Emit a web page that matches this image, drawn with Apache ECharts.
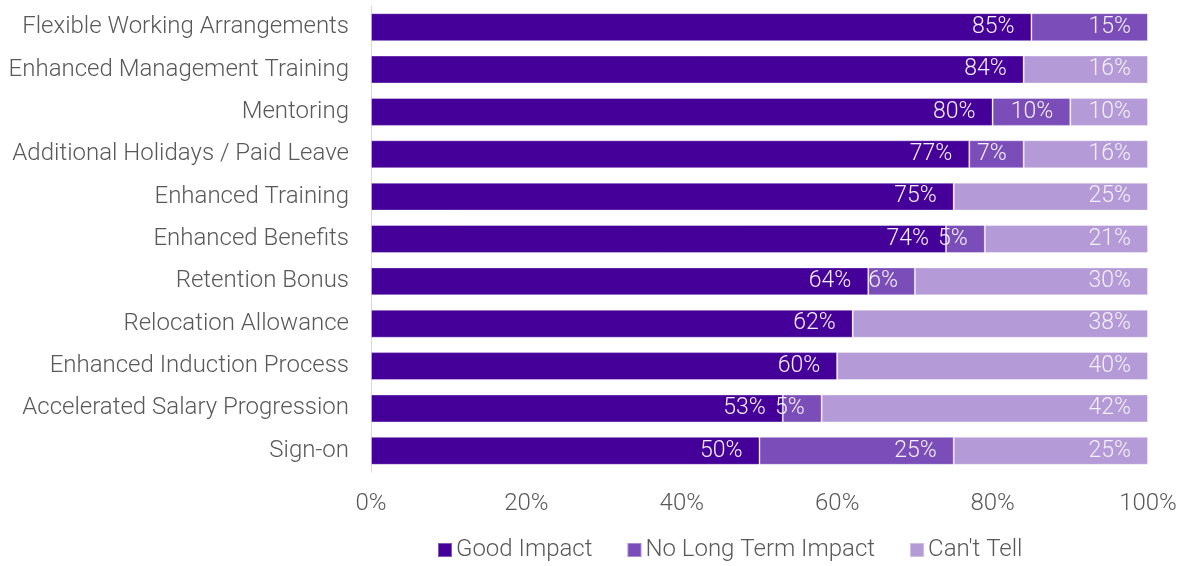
<!DOCTYPE html>
<html><head><meta charset="utf-8">
<script src="https://cdn.jsdelivr.net/npm/echarts@6/dist/echarts.min.js"></script>
<style>html,body{margin:0;padding:0;background:#fff}#c{width:1181px;height:566px}</style>
</head><body><div id="c"></div>
<script>
const categories = ["Flexible Working Arrangements","Enhanced Management Training","Mentoring","Additional Holidays / Paid Leave","Enhanced Training","Enhanced Benefits","Retention Bonus","Relocation Allowance","Enhanced Induction Process","Accelerated Salary Progression","Sign-on"];
const goodImpact = [85,84,80,77,75,74,64,62,60,53,50];
const noLongTerm = [15,0,10,7,0,5,6,0,0,5,25];
const cantTell = [0,16,10,16,25,21,30,38,40,42,25];
const seriesNames = ["Good Impact","No Long Term Impact","Can't Tell"];
const colors = ["#440099","#7b4db8","#b49ad6"];
const font = "Roboto";
const chart = echarts.init(document.getElementById('c'));
function mk(name, data, color){
  return {name, type:'bar', stack:'a', data, barCategoryGap:'34%',
    itemStyle:{color, borderColor:'rgba(255,255,255,0.35)', borderWidth:1},
    label:{show:true, position:'insideRight', distance:17, color:'#f4f0fa', fontFamily:font, fontWeight:300, fontSize:23,
      formatter:p=>p.value? p.value+'%':''},
    labelLayout:{hideOverlap:false},
    emphasis:{disabled:true}};
}
chart.setOption({
  animation:false,
  grid:{left:371, right:33, top:6, bottom:94, containLabel:false},
  legend:{left:437, top:538, padding:0, itemWidth:14, itemHeight:14, itemGap:34, icon:'rect',
    textStyle:{fontFamily:font, fontWeight:300, fontSize:24, color:'#595959', padding:[0,0,0,-1]},
    data:seriesNames},
  xAxis:{type:'value', min:0, max:100, interval:20,
    axisLabel:{formatter:'{value}%', fontFamily:font, fontWeight:300, fontSize:24, color:'#595959', margin:20},
    splitLine:{show:false}, axisLine:{show:false}, axisTick:{show:false}},
  yAxis:{type:'category', inverse:true, data:categories,
    axisLine:{show:true, lineStyle:{color:'#d9d9d9', width:1}}, axisTick:{show:false},
    axisLabel:{fontFamily:font, fontWeight:300, fontSize:24, color:'#595959', margin:22}},
  series:[mk(seriesNames[0],goodImpact,colors[0]), mk(seriesNames[1],noLongTerm,colors[1]), mk(seriesNames[2],cantTell,colors[2])]
});
</script></body></html>
